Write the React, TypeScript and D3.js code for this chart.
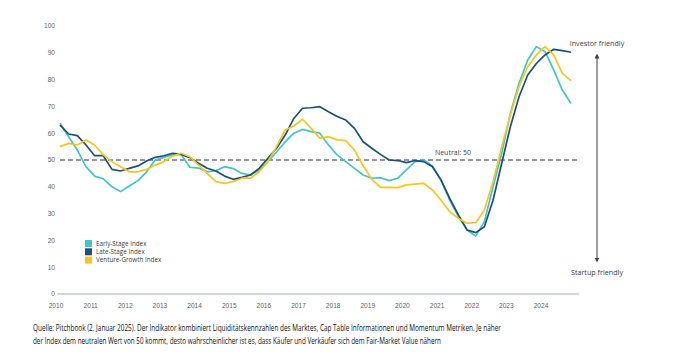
import React from 'react'
import * as d3 from 'd3'

// quarterly values, 2010 Q1 .. 2024 Q4
const earlyStage = [63.7, 58.7, 53.7, 47.5, 44, 43, 40, 38.2, 40.3, 42.3, 45.6, 50, 51, 52, 52, 47.3, 47, 45.6, 46, 47.5, 46.8,
  45, 44.4, 46.3, 49.4, 53, 56.8, 60, 61.4, 60.6, 60, 55.6, 51.9, 49.4, 46.9, 44.4, 43.2, 43.4, 42.3, 43.2, 46.3,
  49.4, 50, 47.8, 42.5, 35, 28.9, 23.9, 21.6, 27, 40, 52.5, 67.4, 78.6, 87.3, 92.3, 90.4, 83.6, 76.1, 71.1]
const lateStage = [63, 59.7, 59.1, 55.6, 51.6, 51.6, 46.5, 45.9, 46.9, 47.8, 49.6, 51, 51.6, 52.5, 52.1, 50.9, 48.8, 46.9, 45.9, 44, 42.8,
  43.5, 44.4, 46.9, 50.6, 54.4, 59.3, 65.5, 69.3, 69.5, 69.9, 68, 66.2, 64.9, 61.8, 56.8, 54.4, 52.1, 50, 49.8, 49,
  49.8, 49.4, 47.5, 42.5, 35.7, 29.5, 23.9, 22.9, 25.1, 35, 48.8, 62.4, 73.6, 81.7, 86, 89.2, 91.3, 90.8, 90.2]
const ventureGrowth = [55, 56.2, 55.6, 57.5, 55.6, 51.9, 49.4, 47.5, 45.6, 45.6, 46.5, 48.1, 49.4, 51.5, 52.5, 51.2, 48.1, 45, 41.9, 41.3, 41.9,
  43.2, 43.2, 45.6, 49.4, 55, 61.2, 62.7, 65.2, 61.8, 58.1, 58.7, 57.5, 57.2, 53.7, 47.8, 42.8, 39.8, 39.8, 39.7, 40.7,
  41, 41.3, 38.8, 35, 30.7, 28.2, 26.4, 26.6, 31.3, 41.9, 55, 66.8, 77.4, 84.8, 89.2, 92.3, 89.2, 82.3, 79.6]

const years = d3.range(2010, 2025)
const yTicks = d3.range(0, 101, 10)
const neutral = 50

const series = [
  { name: 'Early-Stage Index', values: earlyStage, color: '#43C4C8' },
  { name: 'Late-Stage Index', values: lateStage, color: '#1D4E7C' },
  { name: 'Venture-Growth Index', values: ventureGrowth, color: '#F7C51E' },
]

const caption1 = 'Quelle: Pitchbook (2. Januar 2025). Der Indikator kombiniert Liquiditätskennzahlen des Marktes, Cap Table Informationen und Momentum Metriken. Je näher'
const caption2 = 'der Index dem neutralen Wert von 50 kommt, desto wahrscheinlicher ist es, dass Käufer und Verkäufer sich dem Fair-Market Value nähern'

export default function App() {
  const width = 673
  const height = 362
  const x = d3.scaleLinear().domain([2010, 2024.75]).range([60, 571])
  const y = d3.scaleLinear().domain([0, 100]).range([294, 26])
  const line = d3.line<number>()
    .x((d, i) => x(2010 + i / 4))
    .y(d => y(d))

  const small = { fontFamily: 'Liberation Sans, Arial, sans-serif', fontSize: 6.6, fill: '#5f5f5f' }
  const calib = { fontFamily: 'Open Sans, sans-serif', fill: '#404040' }

  return (
    <svg width={width} height={height} style={{ position: 'absolute', left: 0, top: 0, background: '#fff' }}>
      {yTicks.map(t => (
        <text key={t} x={55} y={y(t)} dy="0.35em" textAnchor="end" {...small}>{t}</text>
      ))}
      <line x1={57} x2={579} y1={y(0)} y2={y(0)} stroke="#c4c8ce" strokeWidth={1.6} />
      {years.map(yr => (
        <text key={yr} x={x(yr) - 4} y={308} textAnchor="middle" {...small}>{yr}</text>
      ))}

      <line x1={x(2010)} x2={580} y1={y(neutral)} y2={y(neutral)} stroke="#777" strokeWidth={1.4} strokeDasharray="5,3" />
      <text x={453} y={155} textAnchor="middle" fontSize={7} {...calib}>Neutral: 50</text>

      {series.map(s => (
        <path key={s.name} d={line(s.values) || ''} fill="none" stroke={s.color} strokeWidth={1.7} strokeLinejoin="round" />
      ))}

      {series.map((s, i) => (
        <g key={s.name} transform={`translate(85,${240 + i * 8.3})`}>
          <rect width={7} height={7} fill={s.color} />
          <text x={11} y={5.8} fontSize={6.3} {...calib}>{s.name}</text>
        </g>
      ))}

      <defs>
        <marker id="arr" viewBox="0 0 10 10" refX="5" refY="5" markerWidth="5" markerHeight="5" orient="auto-start-reverse">
          <path d="M0,0 L10,5 L0,10 z" fill="#404040" />
        </marker>
      </defs>
      <line x1={597} x2={597} y1={56} y2={260} stroke="#404040" strokeWidth={1} markerStart="url(#arr)" markerEnd="url(#arr)" />
      <text x={597} y={46} textAnchor="middle" fontSize={7.2} {...calib}>Investor friendly</text>
      <text x={597} y={275} textAnchor="middle" fontSize={7.2} {...calib}>Startup friendly</text>

      <text x={33} y={331} fontSize={8.2} textLength={468} lengthAdjust="spacingAndGlyphs" fontFamily="Open Sans, sans-serif" fill="#111">{caption1}</text>
      <text x={33} y={343.5} fontSize={8.2} textLength={408} lengthAdjust="spacingAndGlyphs" fontFamily="Open Sans, sans-serif" fill="#111">{caption2}</text>
    </svg>
  )
}
